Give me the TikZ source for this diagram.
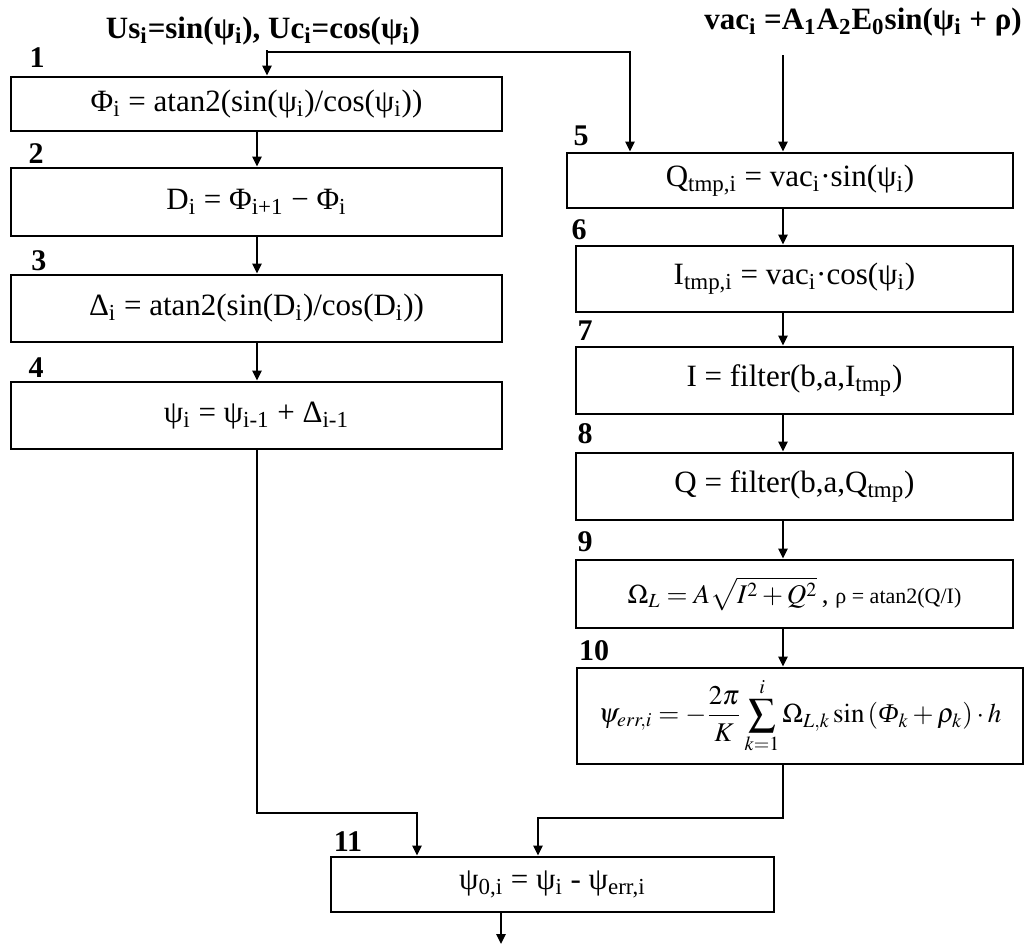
\documentclass[tikz,border=0pt]{standalone}
\usepackage{mathptmx}
\usepackage[no-math]{fontspec}
\setmainfont{Liberation Serif}
\usetikzlibrary{arrows.meta,calc}

\newcommand{\sbs}[1]{\textsubscript{#1}}

\tikzset{
	blk/.style={draw, line width=1.4pt, inner sep=0pt, font=\fontsize{15.5}{18}\selectfont},
	num/.style={font=\fontsize{15}{17}\selectfont\bfseries, inner sep=0pt},
	head/.style={font=\fontsize{15.5}{18}\selectfont\bfseries, inner sep=0pt},
}

\begin{document}
\begin{tikzpicture}[x=0.5pt, y=-0.5pt, line width=1.2pt, >={Triangle[length=5pt,width=4.5pt]}]
		\useasboundingbox (0,0) rectangle (1028,946);
		% inputs
		\node[head] (us) at (263,31) {Us\sbs{i}=sin(ψ\sbs{i}), Uc\sbs{i}=cos(ψ\sbs{i})};
		\node[head] (vac) at (863,22) {vac\sbs{i} =A\sbs{1}A\sbs{2}E\sbs{0}sin(ψ\sbs{i} + ρ)};
		% left column
		\node[blk, minimum width=245.5pt, minimum height=27pt] (b1) at (256.5,104) {Φ\sbs{i} = atan2(sin(ψ\sbs{i})/cos(ψ\sbs{i}))};
		\node[blk, minimum width=245.5pt, minimum height=34pt] (b2) at (256.5,202) {D\sbs{i} = Φ\sbs{i+1} − Φ\sbs{i}};
		\node[blk, minimum width=245.5pt, minimum height=33.5pt] (b3) at (256.5,308.5) {Δ\sbs{i} = atan2(sin(D\sbs{i})/cos(D\sbs{i}))};
		\node[blk, minimum width=245.5pt, minimum height=33.5pt] (b4) at (256.5,415.5) {ψ\sbs{i} = ψ\sbs{i-1} + Δ\sbs{i-1}};
		% right column
		\node[blk, minimum width=223pt, minimum height=27.5pt] (b5) at (790,180.5) {Q\sbs{tmp,i} = vac\sbs{i}·sin(ψ\sbs{i})};
		\node[blk, minimum width=218.5pt, minimum height=33pt] (b6) at (794.5,279) {I\sbs{tmp,i} = vac\sbs{i}·cos(ψ\sbs{i})};
		\node[blk, minimum width=218.5pt, minimum height=33.5pt] (b7) at (794.5,380.5) {I = filter(b,a,I\sbs{tmp})};
		\node[blk, minimum width=218.5pt, minimum height=33.5pt] (b8) at (794.5,486.5) {Q = filter(b,a,Q\sbs{tmp})};
		\node[blk, minimum width=218.5pt, minimum height=34pt, font=\fontsize{13.5}{16}\selectfont] (b9) at (794.5,594) {$\Omega_L = A\sqrt{I^2+Q^2}$\,, {\fontsize{11}{13}\selectfont ρ = atan2(Q/I)}};
		\node[blk, minimum width=223pt, minimum height=48pt, font=\fontsize{13.5}{16}\selectfont] (b10) at (800,716) {$\displaystyle \psi_{err,i} = -\frac{2\pi}{K}\sum_{k=1}^{i}\Omega_{L,k}\sin\left(\mbox{\itshape Φ}_k+\rho_k\right)\cdot h$};
		% output
		\node[blk, minimum width=221.5pt, minimum height=27.5pt] (b11) at (552.5,884.5) {ψ\sbs{0,i} = ψ\sbs{i} - ψ\sbs{err,i}};
		% step numbers
		\node[num] (l1) at (37,58) {1};
		\node[num] (l2) at (36,154) {2};
		\node[num] (l3) at (39,261) {3};
		\node[num] (l4) at (36,368) {4};
		\node[num] (l5) at (581,136) {5};
		\node[num] (l6) at (579,230) {6};
		\node[num] (l7) at (585,331) {7};
		\node[num] (l8) at (585,434) {8};
		\node[num] (l9) at (585,542) {9};
		\node[num] (l10) at (594,651) {10};
		\node[num] (l11) at (348,842) {11};
		% connectors
		\coordinate (lx) at (257,0);
		\coordinate (rx) at (783,0);
		\coordinate (split) at (267,52);
		\coordinate (m1) at (417,813);
		\coordinate (m2) at (538,818);
		\coordinate (out) at (501,944);
		\draw[->] ([yshift=-2pt]us.south -| split) -- (split |- b1.north);
		\draw[->] (split) -| ($(b5.north)+(-160,0)$);
		\draw[->] ([yshift=-9pt]vac.south -| rx) -- (rx |- b5.north);
		\foreach \a/\b in {b1/b2, b2/b3, b3/b4}
			\draw[->] (lx |- \a.south) -- (lx |- \b.north);
		\foreach \a/\b in {b5/b6, b6/b7, b7/b8, b8/b9, b9/b10}
			\draw[->] (rx |- \a.south) -- (rx |- \b.north);
		\draw[->] (lx |- b4.south) |- (m1) -- (m1 |- b11.north);
		\draw[->] (rx |- b10.south) |- (m2) -- (m2 |- b11.north);
		\draw[->] (out |- b11.south) -- (out);
	\end{tikzpicture}
\end{document}
